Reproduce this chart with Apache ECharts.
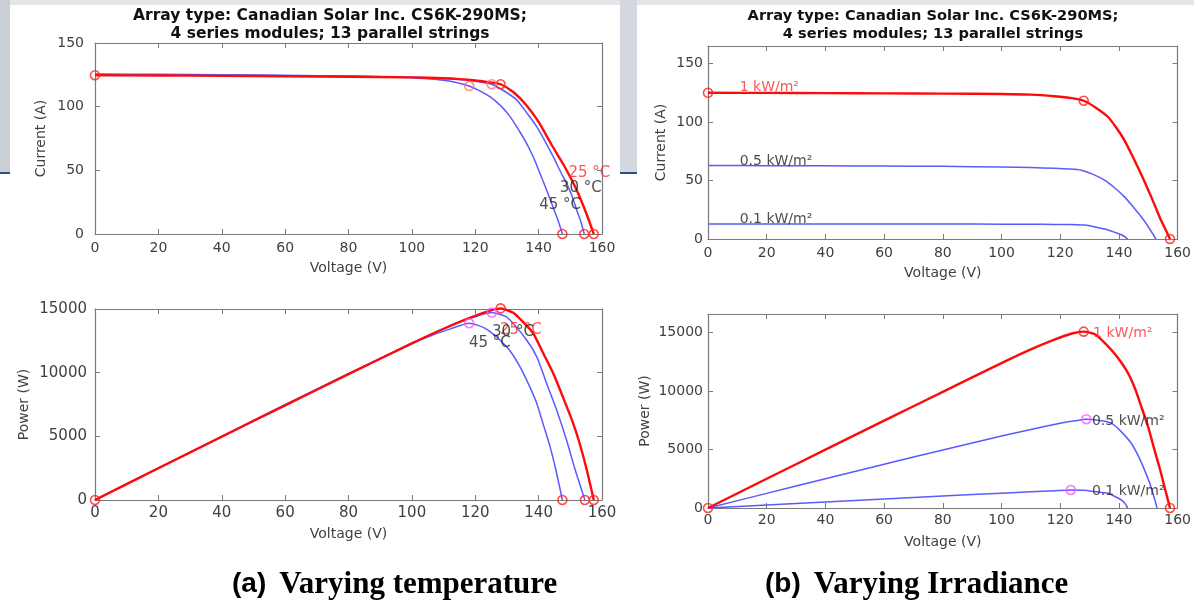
<!DOCTYPE html>
<html><head><meta charset="utf-8">
<script src="https://cdn.jsdelivr.net/npm/echarts@6/dist/echarts.min.js"></script>
<style>html,body{margin:0;padding:0;background:#fff}#c{width:1194px;height:605px}</style>
</head><body><div id="c"></div>
<script>
// ---------- (a) Varying temperature : I-V ----------
const vA25 = [0, 20, 40, 60, 80, 100, 110, 115, 120, 124, 128, 132, 136, 140, 144, 148, 152, 155, 157.4];
const iA25 = [124.7, 124.5, 124.2, 123.9, 123.5, 123.0, 122.3, 121.6, 120.5, 119.3, 117.6, 111.5, 101.5, 88.0, 70.5, 53.8, 34.6, 16.5, 0];
const vA30 = [0, 20, 40, 60, 80, 100, 110, 115, 119, 122, 125.2, 129, 133, 136, 139.4, 142, 144.6, 147, 148.8, 150.5, 152, 153.3, 154.4];
const iA30 = [125.2, 125.0, 124.7, 124.3, 123.8, 123.1, 122.2, 121.4, 120.3, 119.2, 117.6, 112.5, 105.5, 96.0, 84.3, 73.0, 60.7, 48.5, 39.8, 30.0, 18.9, 10.0, 0];
const vA45 = [0, 20, 40, 60, 80, 100, 106, 110, 114, 118.1, 121, 124.6, 128, 131, 134, 136.2, 138.5, 140.4, 142.3, 144.1, 146, 147.5];
const iA45 = [125.7, 125.4, 125.0, 124.6, 124.0, 122.8, 121.7, 120.7, 119.0, 116.2, 113.0, 107.9, 100.8, 92.2, 80.5, 71.2, 59.5, 47.7, 36.0, 24.1, 11.5, 0];
// ---------- (a) Varying temperature : P-V ----------
const pvA25 = [0, 20, 40, 60, 80, 100, 110, 118, 124, 128, 132, 135, 138.3, 141.5, 144.6, 147.8, 150.9, 153, 155.2, 157.4];
const pA25 = [0, 2490, 4970, 7430, 9880, 12300, 13450, 14280, 14820, 15050, 14700, 14000, 13090, 11500, 9950, 8000, 6020, 4400, 2360, 0];
const pvA30 = [0, 20, 40, 60, 80, 100, 110, 118, 125.2, 130, 136.2, 139.5, 142.5, 145.5, 148.8, 151.5, 154.6];
const pA30 = [0, 2500, 4990, 7460, 9900, 12310, 13440, 14230, 14720, 14350, 12570, 11200, 9170, 7200, 4710, 2400, 0];
const pvA45 = [0, 20, 40, 60, 80, 100, 106, 112, 118.1, 123, 127.8, 131, 134.1, 137, 139.4, 141.5, 143.6, 145.5, 147.5];
const pA45 = [0, 2510, 5000, 7480, 9920, 12280, 12900, 13420, 13880, 13500, 12570, 11700, 10470, 9000, 7600, 5900, 4190, 2300, 0];
// ---------- (b) Varying irradiance : I-V ----------
const vB10 = [0, 20, 40, 60, 80, 100, 110, 118, 124, 128, 132, 136.3, 139, 141.9, 144, 146.4, 148.8, 151, 153, 154.3, 156, 157.4];
const iB10 = [125.0, 124.9, 124.7, 124.5, 124.3, 124.0, 123.4, 122.0, 120.4, 118.2, 112.5, 104.3, 95.5, 84.4, 74.0, 61.6, 48.5, 36.0, 24.0, 16.2, 7.5, 0];
const vB05 = [0, 20, 40, 60, 80, 100, 110, 118, 123, 127.2, 131, 135.1, 138.5, 141.9, 145, 147.6, 150, 152.6];
const iB05 = [62.8, 62.7, 62.6, 62.4, 62.1, 61.6, 61.1, 60.4, 59.8, 58.8, 55.5, 50.3, 43.8, 36.0, 27.0, 19.0, 10.5, 0];
const vB01 = [0, 20, 40, 60, 80, 100, 110, 118, 123.6, 128.4, 132, 136.3, 139.5, 141.5, 143];
const iB01 = [12.9, 12.9, 12.9, 12.8, 12.8, 12.7, 12.6, 12.5, 12.4, 11.9, 10.2, 7.7, 4.9, 2.8, 0];
// ---------- (b) Varying irradiance : P-V ----------
const pvB10 = [0, 20, 40, 60, 80, 100, 110, 118, 124, 128, 132, 136.3, 139.5, 143.1, 145.5, 147.6, 150, 152.1, 154, 155.5, 157.4];
const pB10 = [0, 2500, 4990, 7470, 9940, 12400, 13570, 14400, 14930, 15090, 14850, 13830, 12900, 11540, 10200, 8690, 6900, 4970, 3300, 1830, 0];
const pvB05 = [0, 20, 40, 60, 80, 100, 110, 120, 125, 128.9, 133, 137.4, 140.5, 144.2, 146.5, 148.7, 150.8, 153];
const pB05 = [0, 1250, 2500, 3740, 4970, 6160, 6720, 7250, 7460, 7600, 7500, 7260, 6600, 5540, 4500, 3260, 1900, 0];
const pvB01 = [0, 20, 40, 60, 80, 100, 110, 118, 123.6, 128, 132, 136.3, 139, 140.8, 142, 143];
const pB01 = [0, 258, 516, 770, 1020, 1270, 1390, 1480, 1540, 1520, 1400, 1260, 940, 690, 400, 0];
// ---------- markers ----------
const mkA1red = [[0, 124.7], [128, 117.6], [147.5, 0], [154.4, 0], [157.4, 0]];
const mkA1pink = [[125.2, 117.6], [118.1, 116.2]];
const mkA2red = [[0, 0], [128, 15050], [147.5, 0], [154.6, 0], [157.4, 0]];
const mkA2mag = [[125.2, 14720], [118.1, 13880]];
const mkB1red = [[0, 125], [128, 118.2], [157.4, 0]];
const mkB2red = [[0, 0], [128, 15090], [157.4, 0]];
const mkB2mag = [[128.9, 7600], [123.6, 1540]];
// ---------- annotation labels [x, y, text] ----------
const lblA1red = [[149.4, 48.2, '25 °C']];
const lblA1blk = [[146.7, 35.9, '30 °C'], [140.2, 22.8, '45 °C']];
const lblA2red = [[127.8, 13350, '25 °C']];
const lblA2blk = [[125.3, 13150, '30 °C'], [118.0, 12330, '45 °C']];
const lblB1red = [[10.8, 129.3, '1 kW/m²']];
const lblB1blk = [[10.8, 66.7, '0.5 kW/m²'], [10.8, 17.0, '0.1 kW/m²']];
const lblB2red = [[131.2, 14970, '1 kW/m²']];
const lblB2blk = [[130.8, 7400, '0.5 kW/m²'], [130.8, 1400, '0.1 kW/m²']];
// ---------- axes ----------
const xTicks = {min: 0, max: 160, interval: 20};
const yRanges = [
  {min: 0, max: 150, interval: 50, name: 'Current (A)'},
  {min: 0, max: 15000, interval: 5000, name: 'Power (W)'},
  {min: 0, max: 165, interval: 50, name: 'Current (A)'},
  {min: 0, max: 16600, interval: 5000, name: 'Power (W)'}
];
const titleText = 'Array type: Canadian Solar Inc. CS6K-290MS;\n4 series modules; 13 parallel strings';

const zip = (xs, ys) => xs.map((x, i) => [x, ys[i]]);
const RED = '#ff0a0a', BLUE = '#5a5aff', AX = '#7a7a7a', TX = '#404040';
const FONT = 'DejaVu Sans';

const grids = [
  {left: 95, top: 43, width: 507, height: 191},
  {left: 95, top: 309, width: 507, height: 191},
  {left: 708, top: 46, width: 472, height: 193},
  {left: 708, top: 314, width: 472, height: 194}
];
const xLabelMargin = [7, 6, 7, 5];
const yLabelMargin = [11, 8, 5, 5];
const yNameGap = [47, 64, 40, 56];
const labelSize = [14, 15, 14, 14];

const xAxis = [], yAxis = [];
grids.forEach((g, i) => {
  const tick = {show: true, inside: true, length: 5, lineStyle: {color: AX, width: 1}};
  const line = {show: true, onZero: false, lineStyle: {color: AX, width: 1.2}};
  xAxis.push({type: 'value', gridIndex: i, position: 'bottom', ...xTicks,
    axisLine: line, axisTick: tick, splitLine: {show: false},
    axisLabel: {color: TX, fontSize: labelSize[i], fontFamily: FONT, margin: xLabelMargin[i]},
    name: 'Voltage (V)', nameLocation: 'middle', nameGap: 27,
    nameTextStyle: {color: TX, fontSize: 14, fontFamily: FONT}});
  xAxis.push({type: 'value', gridIndex: i, position: 'top', ...xTicks,
    axisLine: line, axisTick: tick, splitLine: {show: false}, axisLabel: {show: false}});
  const r = yRanges[i];
  const fmt = v => (v % r.interval === 0 ? String(v) : '');
  yAxis.push({type: 'value', gridIndex: i, position: 'left', min: r.min, max: r.max, interval: r.interval,
    axisLine: line, axisTick: tick, splitLine: {show: false},
    axisLabel: {color: TX, fontSize: labelSize[i], fontFamily: FONT, margin: yLabelMargin[i], formatter: fmt},
    name: r.name, nameLocation: 'middle', nameGap: yNameGap[i],
    nameTextStyle: {color: TX, fontSize: 14, fontFamily: FONT}});
  yAxis.push({type: 'value', gridIndex: i, position: 'right', min: r.min, max: r.max, interval: r.interval,
    axisLine: line, axisTick: tick, splitLine: {show: false}, axisLabel: {show: false}});
});

const series = [];
function curve(g, data, color, width) {
  series.push({type: 'line', xAxisIndex: 2 * g, yAxisIndex: 2 * g, data: data, showSymbol: false,
    smooth: 0.2, clip: false, silent: true, z: color === RED ? 4 : 3,
    lineStyle: {color: color, width: width, join: 'round'}});
}
function marks(g, data, color) {
  series.push({type: 'scatter', xAxisIndex: 2 * g, yAxisIndex: 2 * g, data: data, symbol: 'circle',
    symbolSize: 9, clip: false, silent: true, z: 6,
    itemStyle: {color: 'rgba(0,0,0,0)', borderColor: color, borderWidth: 1.6}});
}
function texts(g, data, color, size) {
  series.push({type: 'scatter', xAxisIndex: 2 * g, yAxisIndex: 2 * g,
    data: data.map(d => ({value: [d[0], d[1]], name: d[2]})), symbolSize: 0, clip: false, silent: true, z: 7,
    label: {show: true, position: 'right', distance: 0, formatter: p => p.name,
      color: color, fontSize: size, fontFamily: FONT}});
}
// (a) top
curve(0, zip(vA45, iA45), BLUE, 1.5);
curve(0, zip(vA30, iA30), BLUE, 1.5);
curve(0, zip(vA25, iA25), RED, 2.4);
marks(0, mkA1red, '#ff2020');
marks(0, mkA1pink, '#ff7070');
texts(0, lblA1red, '#ff2a2a', 15);
texts(0, lblA1blk, '#222', 15);
// (a) bottom
curve(1, zip(pvA45, pA45), BLUE, 1.5);
curve(1, zip(pvA30, pA30), BLUE, 1.5);
curve(1, zip(pvA25, pA25), RED, 2.4);
marks(1, mkA2red, '#ff2020');
marks(1, mkA2mag, '#ff55ff');
texts(1, lblA2red, '#ff2a2a', 15);
texts(1, lblA2blk, '#222', 15);
// (b) top
curve(2, zip(vB01, iB01), BLUE, 1.5);
curve(2, zip(vB05, iB05), BLUE, 1.5);
curve(2, zip(vB10, iB10), RED, 2.4);
marks(2, mkB1red, '#ff2020');
texts(2, lblB1red, '#ff2a2a', 14);
texts(2, lblB1blk, '#222', 14);
// (b) bottom
curve(3, zip(pvB01, pB01), BLUE, 1.5);
curve(3, zip(pvB05, pB05), BLUE, 1.5);
curve(3, zip(pvB10, pB10), RED, 2.4);
marks(3, mkB2red, '#ff2020');
marks(3, mkB2mag, '#ff55ff');
texts(3, lblB2red, '#ff2a2a', 14);
texts(3, lblB2blk, '#222', 14);

const titleStyle = {color: '#111', fontSize: 15.5, fontWeight: 'bold', fontFamily: FONT, lineHeight: 18};
const capRich = {
  p: {fontFamily: 'Liberation Sans', fontWeight: 'bold', fontSize: 28, color: '#14255a', padding: [0, 13, 0, 0]},
  s: {fontFamily: 'Liberation Serif', fontWeight: 'bold', fontSize: 31, color: '#14255a'}
};
const option = {
  animation: false,
  backgroundColor: '#fff',
  title: [
    {text: titleText, left: 325, top: 2, textAlign: 'center', textStyle: titleStyle},
    {text: titleText, left: 928, top: 2, textAlign: 'center', textStyle: {...titleStyle, fontSize: 14.6}}
  ],
  graphic: [
    {type: 'rect', left: 0, top: 0, shape: {width: 1194, height: 5}, style: {fill: '#e4e5e7'}, z: -1},
    {type: 'rect', left: 0, top: 0, shape: {width: 10, height: 173}, style: {fill: '#c9ced7'}, z: -1},
    {type: 'rect', left: 0, top: 172, shape: {width: 10, height: 2}, style: {fill: '#2d4f8e'}, z: -1},
    {type: 'rect', left: 620, top: 0, shape: {width: 17, height: 173}, style: {fill: '#d3d7de'}, z: -1},
    {type: 'rect', left: 620, top: 172, shape: {width: 17, height: 2}, style: {fill: '#2d4f8e'}, z: -1},
    {type: 'text', left: 232, top: 569, style: {text: '{p|(a)}{s|Varying temperature}', rich: capRich}},
    {type: 'text', left: 765, top: 569, style: {text: '{p|(b)}{s|Varying Irradiance}', rich: capRich}}
  ],
  grid: grids,
  xAxis: xAxis,
  yAxis: yAxis,
  series: series
};
echarts.init(document.getElementById('c'), null, {renderer: 'canvas'}).setOption(option);
</script>
</body></html>
